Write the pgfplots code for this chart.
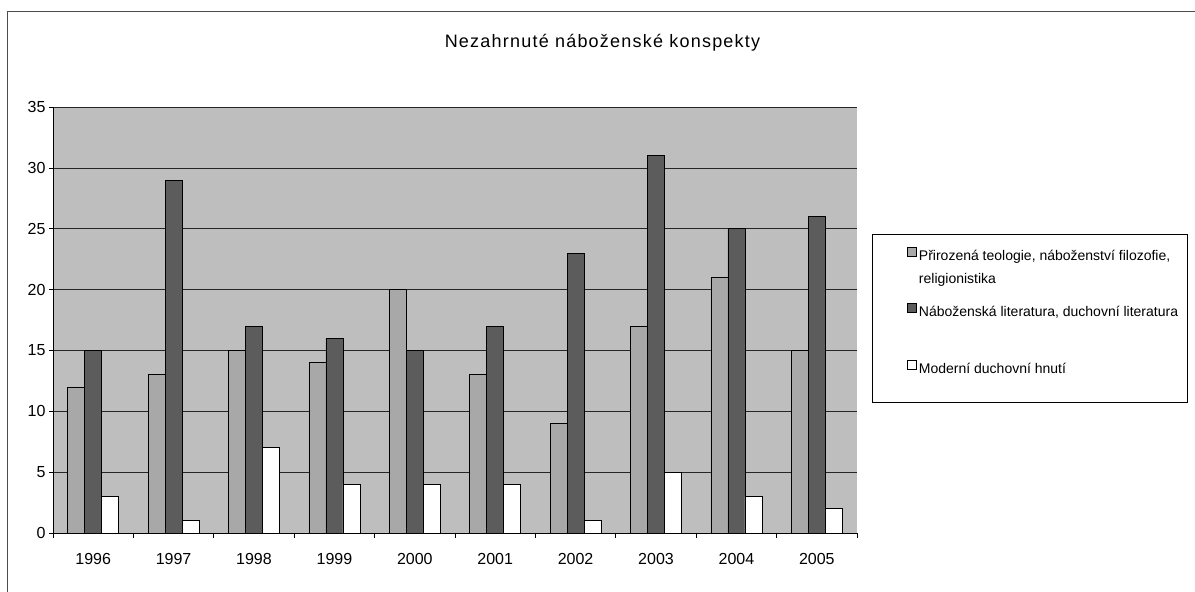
\documentclass[border=0pt]{standalone}
\usepackage{pgfplots}
\pgfplotsset{compat=1.18}
\usepackage{pgfplotstable}
\usepackage{fontspec}
\setmainfont{Liberation Sans}
\newfontfamily\titlefont[LetterSpace=6.8]{Liberation Sans}
\definecolor{bgc}{RGB}{190,190,190}
\definecolor{sA}{RGB}{168,168,168}
\definecolor{sB}{RGB}{92,92,92}
\pgfplotstableread{
x a b c
0 12 15 3
1 13 29 1
2 15 17 7
3 14 16 4
4 20 15 4
5 13 17 4
6 9 23 1
7 17 31 5
8 21 25 3
9 15 26 2
}\datatable
\begin{document}
\begin{tikzpicture}[x=1pt,y=1pt]
\path[use as bounding box] (0,0) rectangle (1195,592);
\draw[line width=0.8pt, black!70] (7.5,0) -- (7.5,581) -- (1195,581);
\node[font=\titlefont\fontsize{18}{20}\selectfont, anchor=base] at (602.5,544) {Nezahrnuté náboženské konspekty};
\begin{axis}[
  at={(53pt,59pt)}, anchor=south west,
  scale only axis, width=804pt, height=426pt,
  ymin=0, ymax=35, ytick={0,5,...,35},
  xmin=-0.5, xmax=9.5,
  xtick={0,...,9},
  xticklabels={1996,1997,1998,1999,2000,2001,2002,2003,2004,2005},
  major x tick style={draw=none},
  minor xtick={-0.5,0.5,...,9.5},
  minor x tick style={black, line width=0.7pt},
  major y tick style={black, line width=0.7pt},
  tick align=outside,
  major tick length=4pt, minor tick length=5pt,
  axis x line*=bottom, axis y line*=left,
  axis line style={black, line width=0.8pt, -},
  axis background/.style={fill=bgc},
  ymajorgrids, grid style={black!85, line width=0.6pt},
  tick label style={font=\fontsize{16}{18}\selectfont},
  /pgf/number format/assume math mode=true,
  xticklabel style={yshift=-13pt},
  ybar=0pt, bar width=17pt,
  legend image code/.code={\draw[#1, line width=0.7pt] (0pt,-0.5pt) rectangle (9pt,8.5pt);},
  legend style={at={(rel axis cs:1.0187,0.688)}, anchor=north west,
    draw=none, fill=none,
    font=\fontsize{14}{23}\selectfont,
    nodes={inner xsep=2pt, inner ysep=4pt},
    cells={anchor=west}, row sep=36.5pt, column sep=0pt,
    inner xsep=35pt, inner ysep=6pt},
  legend cell align=left,
  clip=false,
]
\addplot[fill=sA, draw=black, line width=0.7pt] table[x=x,y=a] {\datatable};
\addplot[fill=sB, draw=black, line width=0.7pt] table[x=x,y=b] {\datatable};
\addplot[fill=white, draw=black, line width=0.7pt] table[x=x,y=c] {\datatable};
\legend{{\raisebox{0pt}[\height][0pt]{\parbox[t]{262pt}{Přirozená teologie, náboženství filozofie,\\religionistika}}},
  {Náboženská literatura, duchovní literatura},
  {Moderní duchovní hnutí}}
\end{axis}
\draw[line width=0.8pt, black] (872.5,190) rectangle (1187,358);
\end{tikzpicture}
\end{document}
